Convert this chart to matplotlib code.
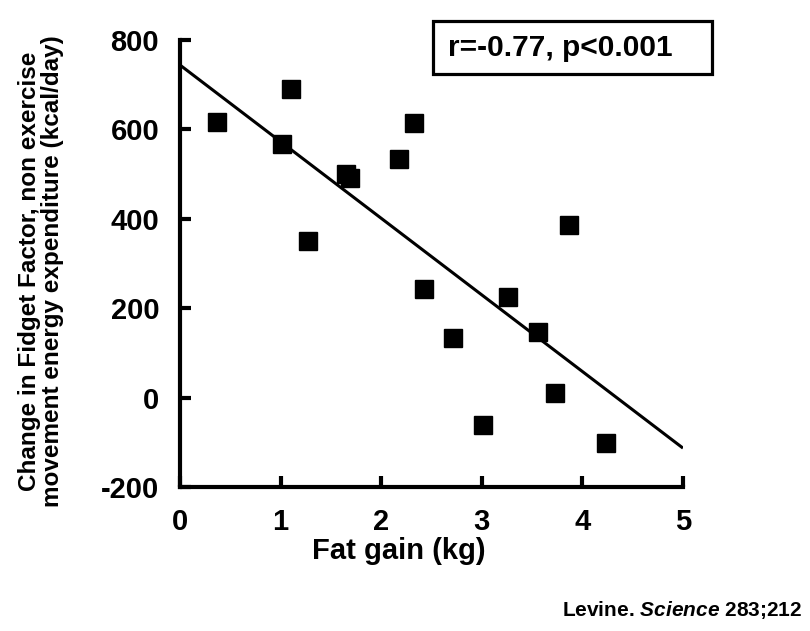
import numpy as np
import matplotlib.pyplot as plt
from matplotlib.patches import Rectangle

plt.rcParams['font.family'] = ['Liberation Sans', 'DejaVu Sans']
plt.rcParams['font.weight'] = 'bold'
plt.rcParams['axes.unicode_minus'] = False
plt.rcParams['mathtext.fontset'] = 'custom'
plt.rcParams['mathtext.rm'] = 'Liberation Sans:bold'
plt.rcParams['mathtext.it'] = 'Liberation Sans:italic:bold'

# fat gain (kg) and change in NEAT (kcal/day)
fat_gain = [0.37, 1.10, 1.01, 1.27, 1.65, 1.69, 2.18, 2.33, 2.43,
            2.71, 3.01, 3.26, 3.56, 3.73, 3.87, 4.23]
neat = [617, 690, 567, 350, 500, 491, 534, 614, 243,
        133, -61, 225, 147, 10, 386, -102]

fit_x = [0, 5]
fit_y = [744, -113]

x_ticks = [0, 1, 2, 3, 4, 5]
y_ticks = [-200, 0, 200, 400, 600, 800]

fig = plt.figure(figsize=(8.1, 6.31), dpi=100)
ax = fig.add_axes([0.2222, 0.2282, 0.6210, 0.7084])

ax.plot(fit_x, fit_y, color='black', lw=2.2, solid_capstyle='butt')
ax.plot(fat_gain, neat, 's', color='black', markersize=13, clip_on=False)

ax.set_xlim(0, 5)
ax.set_ylim(-200, 800)
ax.set_xticks(x_ticks)
ax.set_yticks(y_ticks)

for side in ['top', 'right']:
    ax.spines[side].set_visible(False)
for side in ['left', 'bottom']:
    ax.spines[side].set_linewidth(3)

ax.tick_params(direction='in', length=8, width=3, labelsize=21, pad=15)
for lab in ax.get_xticklabels() + ax.get_yticklabels():
    lab.set_fontweight('bold')

ax.set_xlabel('Fat gain (kg)', fontsize=21, fontweight='bold')
ax.xaxis.set_label_coords(0.435, -0.112)

fig.text(41 / 810, 1 - 271 / 631,
         'Change in Fidget Factor, non exercise\n'
         'movement energy expenditure (kcal/day)',
         fontsize=17.5, fontweight='bold', rotation=90,
         ha='center', va='center', linespacing=1.0)

# stats box
fig.patches.append(Rectangle((433 / 810, 1 - 74 / 631), 279 / 810, 53 / 631,
                             transform=fig.transFigure, fill=False,
                             ec='black', lw=2.3))
fig.text(448 / 810, 1 - 48 / 631, 'r=-0.77, p<0.001', fontsize=21.5,
         fontweight='bold', ha='left', va='center')

fig.text(0.99, 1 - 610 / 631, r'Levine. $\mathit{Science}$ 283;212',
         fontsize=15, fontweight='bold', ha='right', va='center')

fig.savefig('out.png', dpi=100)
